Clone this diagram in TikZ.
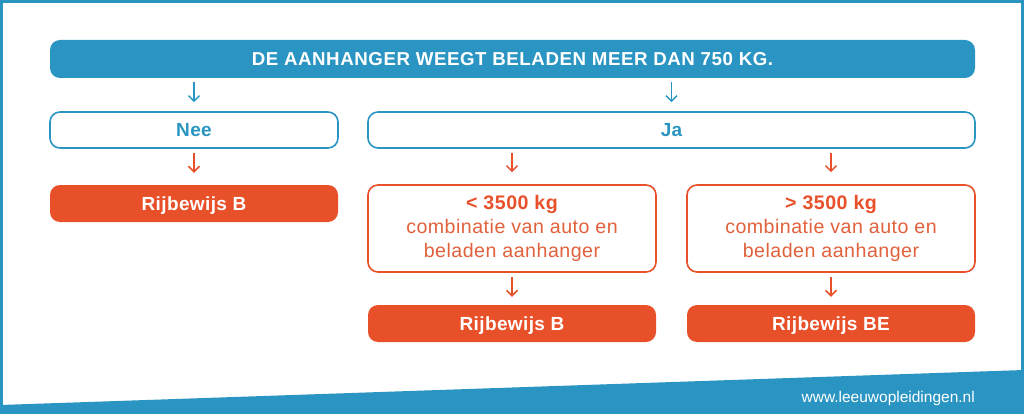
\documentclass[tikz,border=0pt]{standalone}
\usepackage{fontspec}
\setmainfont{Liberation Sans}
\newfontfamily\bodyfont[LetterSpace=2.5]{Liberation Sans}
\newfontfamily\boxfont[LetterSpace=2]{Liberation Sans}
\newfontfamily\topfont[LetterSpace=3]{Liberation Sans}
\usetikzlibrary{arrows.meta}
\definecolor{lblue}{HTML}{2A95C2}
\definecolor{lorange}{HTML}{E8502A}
\definecolor{torange}{HTML}{E0613B}
\begin{document}
\begin{tikzpicture}[x=1pt,y=-1pt,
  box/.style={rounded corners=10pt, minimum width=288pt, inner sep=0pt, align=center},
  bluefill/.style={box, fill=lblue, text=white, font=\topfont\fontsize{18.7}{22}\selectfont\bfseries},
  blueline/.style={box, draw=lblue, line width=1.6pt, fill=white, text=lblue, text height=13.6pt, text depth=0pt, font=\boxfont\fontsize{19}{23}\selectfont\bfseries},
  orfill/.style={box, fill=lorange, text=white, text height=13.6pt, text depth=0pt, font=\boxfont\fontsize{19}{23}\selectfont\bfseries},
  orline/.style={box, draw=lorange, line width=1.6pt, fill=white, text=torange, font=\bodyfont\fontsize{19.6}{24}\selectfont},
  tip/.style={-{Straight Barb[length=5.5pt,width=11pt]}},
  barr/.style={draw=lblue, line width=1.5pt, tip},
  oarr/.style={draw=lorange, line width=1.5pt, tip}]
\useasboundingbox (0,0) rectangle (1024,414);
% frame and footer band
\draw[lblue, line width=3pt] (1.5,1.5) rectangle (1022.5,412.5);
\fill[lblue] (0,405) -- (1024,370) -- (1024,414) -- (0,414) -- cycle;
\node[text=white, anchor=east, inner sep=0pt, font=\fontsize{15.5}{18}\selectfont] (url) at (975,398) {www.leeuwopleidingen.nl};
% nodes
\node[bluefill, minimum width=925pt, minimum height=38pt] (top) at (512.5,59) {DE AANHANGER WEEGT BELADEN MEER DAN 750 KG.};
\node[blueline, minimum height=36pt] (nee) at (194,130) {Nee};
\node[blueline, minimum width=607pt, minimum height=36pt] (ja) at (671.5,130) {Ja};
\node[orfill, minimum height=37pt] (rb1) at (194,203.5) {Rijbewijs B};
\node[orline, minimum height=87pt] (lt) at (512,228.5) {{\bfseries\color{lorange}< 3500 kg}\\combinatie van auto en\\beladen aanhanger};
\node[orline, minimum height=87pt] (gt) at (831,228.5) {{\bfseries\color{lorange}> 3500 kg}\\combinatie van auto en\\beladen aanhanger};
\node[orfill, minimum height=37pt] (rb2) at (512,323.5) {Rijbewijs B};
\node[orfill, minimum height=37pt] (rbe) at (831,323.5) {Rijbewijs BE};
% arrows
\draw[barr] ([yshift=-4pt]top.south -| nee.north) -- ([yshift=9pt]nee.north);
\draw[barr] ([yshift=-4pt]top.south -| ja.north) -- ([yshift=9pt]ja.north);
\draw[oarr] ([yshift=-4pt]nee.south) -- ([yshift=12pt]rb1.north);
\draw[oarr] ([yshift=-4pt]ja.south -| lt.north) -- ([yshift=12pt]lt.north);
\draw[oarr] ([yshift=-4pt]ja.south -| gt.north) -- ([yshift=12pt]gt.north);
\draw[oarr] ([yshift=-4pt]lt.south) -- ([yshift=8pt]rb2.north);
\draw[oarr] ([yshift=-4pt]gt.south) -- ([yshift=8pt]rbe.north);
\end{tikzpicture}
\end{document}
